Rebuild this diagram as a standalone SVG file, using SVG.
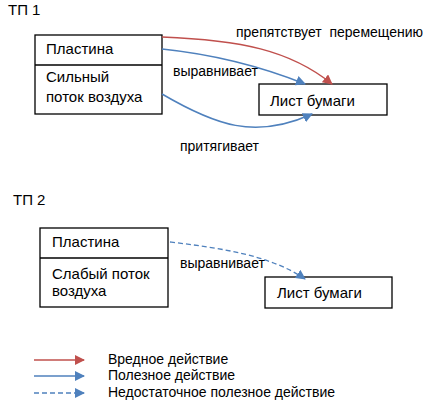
<svg xmlns="http://www.w3.org/2000/svg" width="430" height="409" viewBox="0 0 430 409">
<defs>
<marker id="ar" viewBox="0 0 10 10" refX="9" refY="5" markerWidth="10" markerHeight="10" markerUnits="userSpaceOnUse" orient="auto"><path d="M0,0 L10,5 L0,10 z" fill="#C0504D"/></marker>
<marker id="ab" viewBox="0 0 10 10" refX="9" refY="5" markerWidth="10" markerHeight="10" markerUnits="userSpaceOnUse" orient="auto"><path d="M0,0 L10,5 L0,10 z" fill="#4F81BD"/></marker>
</defs>
<style>
text{font-family:"Liberation Sans",Arial,sans-serif;font-size:15px;fill:#000}
.s{font-size:14px}
.box{fill:#fff;stroke:#000;stroke-width:1.3}
.red{fill:none;stroke:#C0504D;stroke-width:1.5;marker-end:url(#ar)}
.blue{fill:none;stroke:#4F81BD;stroke-width:1.5;marker-end:url(#ab)}
.dash{fill:none;stroke:#4F81BD;stroke-width:1.3;stroke-dasharray:5,3;marker-end:url(#ab)}
</style>
<rect width="430" height="409" fill="#fff"/>
<text x="8" y="15">ТП 1</text>
<text x="13" y="205">ТП 2</text>
<g id="n1">
<rect class="box" x="35" y="35" width="127" height="79"/>
<line x1="35" y1="65" x2="162" y2="65" stroke="#000" stroke-width="1.3"/>
<text x="46" y="54">Пластина</text>
<text x="46" y="82">Сильный</text>
<text x="46" y="102">поток воздуха</text>
</g>
<g id="n2">
<rect class="box" x="259" y="84" width="128" height="31"/>
<text x="270" y="106">Лист бумаги</text>
</g>
<g id="n3">
<rect class="box" x="40" y="228" width="128" height="79"/>
<line x1="40" y1="258" x2="168" y2="258" stroke="#000" stroke-width="1.3"/>
<text x="52" y="247">Пластина</text>
<text x="52" y="279">Слабый поток</text>
<text x="52" y="296">воздуха</text>
</g>
<g id="n4">
<rect class="box" x="265" y="277" width="127" height="31"/>
<text x="277" y="298">Лист бумаги</text>
</g>
<g id="edges">
<path class="red" d="M162,37 C240,40 290,50 332,84"/>
<path class="blue" d="M162,49 C220,55 265,68 305,84"/>
<path class="blue" d="M162,94 C215,125 255,140 312,114"/>
<path class="dash" d="M170,242 C220,248 270,255 305,279"/>
<text class="s" x="236" y="37" xml:space="preserve">препятствует  перемещению</text>
<text class="s" x="173" y="76">выравнивает</text>
<text class="s" x="180" y="151">притягивает</text>
<text class="s" x="180" y="268">выравнивает</text>
</g>
<g id="legend">
<line class="red" x1="34" y1="360" x2="84" y2="360"/>
<line class="blue" x1="34" y1="376" x2="84" y2="376"/>
<line class="dash" x1="34" y1="393" x2="84" y2="393"/>
<text class="s" x="108" y="364">Вредное действие</text>
<text class="s" x="108" y="380">Полезное действие</text>
<text class="s" x="108" y="397">Недостаточное полезное действие</text>
</g>
</svg>
